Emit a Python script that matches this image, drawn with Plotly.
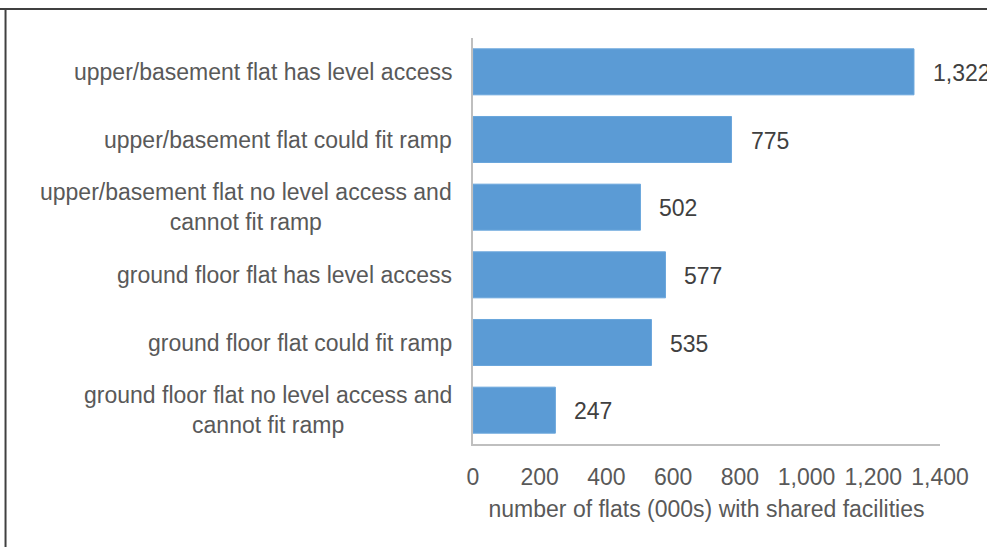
import plotly.graph_objects as go

# categories (top to bottom) and values in thousands
categories = [
    "upper/basement flat has level access",
    "upper/basement flat could fit ramp",
    "upper/basement flat no level access and<br>cannot fit ramp",
    "ground floor flat has level access",
    "ground floor flat could fit ramp",
    "ground floor flat no level access and<br>cannot fit ramp",
]
flats = [1322, 775, 502, 577, 535, 247]
x_ticks = [0, 200, 400, 600, 800, 1000, 1200, 1400]
x_tick_labels = ["0", "200", "400", "600", "800", "1,000", "1,200", "1,400"]

text_grey = "#595959"
font_name = "Liberation Sans, Arial, sans-serif"
fsize = 23

fig = go.Figure()

fig.add_trace(go.Bar(
    x=flats,
    y=categories,
    orientation="h",
    marker=dict(color="#5b9bd5", line=dict(color="#6aa6dc", width=1)),
    hoverinfo="x+y",
))

# value labels right of each bar
for cat, val in zip(categories, flats):
    fig.add_annotation(
        x=val, y=cat, text=f"{val:,}", showarrow=False,
        xanchor="left", xshift=17, yshift=-1,
        font=dict(size=fsize, color="#404040", family=font_name),
    )

# category labels, centred lines like the original
for cat in categories:
    fig.add_annotation(
        x=0, xref="paper", y=cat, text=cat, showarrow=False,
        xanchor="right", xshift=-19, align="center",
        font=dict(size=fsize, color=text_grey, family=font_name),
    )

# outer frame (cropped: only top and left edges visible)
fig.add_shape(type="line", xref="paper", yref="paper",
              x0=-1.001, x1=-1.001, y0=1.0714, y1=-1.5,
              line=dict(color="#404040", width=2))
fig.add_shape(type="line", xref="paper", yref="paper",
              x0=-1.2, x1=2.0, y0=1.0714, y1=1.0714,
              line=dict(color="#404040", width=2))

fig.update_layout(
    width=987,
    height=547,
    margin=dict(l=473, r=47, t=38, b=103),
    paper_bgcolor="white",
    plot_bgcolor="white",
    bargap=0.32,
    showlegend=False,
    font=dict(family=font_name, size=fsize, color=text_grey),
    xaxis=dict(
        range=[0, 1400],
        tickvals=x_ticks,
        ticktext=x_tick_labels,
        showgrid=False,
        zeroline=False,
        showline=True,
        linecolor="#bfbfbf",
        linewidth=1.5,
        ticks="",
        ticklabelstandoff=12,
        tickfont=dict(size=fsize, color=text_grey),
        title=dict(text="number of flats (000s) with shared facilities",
                   font=dict(size=fsize, color=text_grey), standoff=12),
    ),
    yaxis=dict(
        autorange="reversed",
        showticklabels=False,
        showgrid=False,
        zeroline=False,
        showline=True,
        linecolor="#bfbfbf",
        linewidth=1.5,
        ticks="",
    ),
)

# page body has an 8px default margin; remove it so the figure sits at 0,0
fig.write_html("out.html", config={"displayModeBar": False},
               post_script="document.body.style.margin='0';")
